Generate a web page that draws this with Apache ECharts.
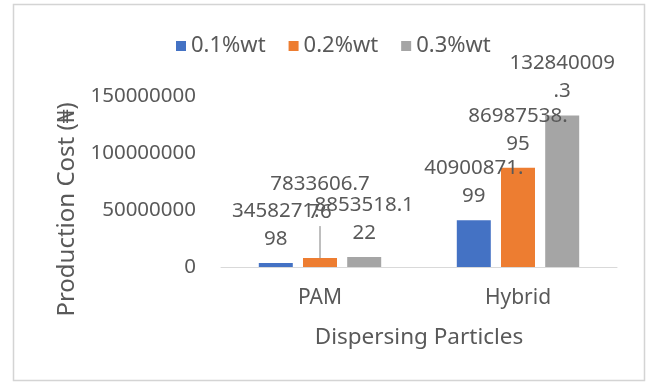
<!DOCTYPE html>
<html>
<head>
<meta charset="utf-8">
<script src="https://cdn.jsdelivr.net/npm/echarts@6/dist/echarts.min.js"></script>
<style>
html,body{margin:0;padding:0;background:#fff;}
#chart{width:648px;height:385px;}
</style>
</head>
<body>
<div id="chart"></div>
<script>
var categories = ['PAM', 'Hybrid'];
var seriesNames = ['0.1%wt', '0.2%wt', '0.3%wt'];
var wt01 = [3458271.98, 40900871.99];
var wt02 = [7833606.776, 86987538.95];
var wt03 = [8853518.122, 132840009.3];
// where each data label text wraps (character index)
var wrap01 = [8, 9];
var wrap02 = [9, 9];
var wrap03 = [9, 9];
var yTicks = [0, 50000000, 100000000, 150000000];

var colors = ['#4472C4', '#ED7D31', '#A5A5A5'];
var FONT = '"Noto Sans", "Open Sans", sans-serif';
var TXT = '#595959';
var FS = 20.5;
var FT = 22.5;

function mkLabel(wraps) {
  return {
    show: true,
    position: 'top',
    distance: 10,
    color: TXT,
    fontFamily: FONT,
    fontSize: FS,
    lineHeight: 28,
    align: 'center',
    formatter: function (p) {
      var s = String(p.value);
      var k = wraps[p.dataIndex];
      return s.slice(0, k) + '\n' + s.slice(k);
    }
  };
}

function mkSeries(i, data, wraps) {
  return {
    name: seriesNames[i],
    type: 'bar',
    data: data,
    barWidth: 34,
    barGap: '30%',
    itemStyle: { color: colors[i] },
    label: mkLabel(wraps)
  };
}

var s1 = mkSeries(0, wt01, wrap01);
var s2 = mkSeries(1, wt02.map(function (v, i) {
  // PAM 0.2%wt label is pulled upward with a leader line
  return i === 0 ? { value: v, labelLine: { show: true, lineStyle: { color: '#7f7f7f', width: 1 } } } : v;
}), wrap02);
var s3 = mkSeries(2, wt03, wrap03);
s2.labelLayout = function (params) {
  if (params.dataIndex === 0) { return { dy: -22 }; }
  return {};
};

var chart = echarts.init(document.getElementById('chart'), null, { renderer: 'canvas' });
chart.setOption({
  animation: false,
  textStyle: { fontFamily: FONT },
  graphic: [{
    type: 'rect',
    shape: { x: 13.5, y: 4.5, width: 631, height: 376 },
    style: { fill: 'none', stroke: '#d4d4d4', lineWidth: 1.5 },
    silent: true
  }],
  legend: {
    data: seriesNames,
    left: 171,
    top: 30,
    itemWidth: 10,
    itemHeight: 10,
    itemGap: 23,
    icon: 'rect',
    textStyle: { color: TXT, fontSize: 22, fontFamily: FONT }
  },
  grid: { left: 221, right: 31, top: 96, bottom: 118, containLabel: false },
  xAxis: {
    type: 'category',
    data: categories,
    axisLine: { show: true, lineStyle: { color: '#D9D9D9', width: 1 } },
    axisTick: { show: false },
    axisLabel: { color: TXT, fontSize: 21, fontFamily: FONT, margin: 21 },
    name: 'Dispersing Particles',
    nameLocation: 'middle',
    nameGap: 59,
    nameTextStyle: { color: TXT, fontSize: FT, fontFamily: FONT }
  },
  yAxis: {
    type: 'value',
    min: yTicks[0],
    max: yTicks[yTicks.length - 1],
    interval: yTicks[1] - yTicks[0],
    axisLine: { show: false },
    axisTick: { show: false },
    splitLine: { show: false },
    axisLabel: { color: TXT, fontSize: FS, fontFamily: FONT, margin: 25, formatter: function (v) { return String(v); } },
    name: 'Production Cost (\u20A6)',
    nameLocation: 'middle',
    nameGap: 142,
    nameRotate: 90,
    nameTextStyle: { color: TXT, fontSize: 24, fontFamily: FONT, padding: [0, 56, 0, 0] }
  },
  series: [s1, s2, s3]
});
</script>
</body>
</html>
